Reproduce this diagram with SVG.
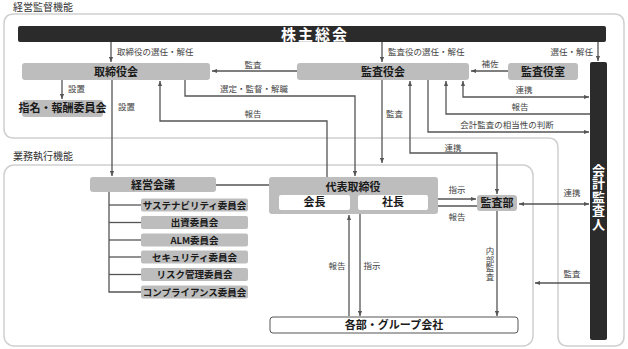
<svg xmlns="http://www.w3.org/2000/svg" width="628" height="349" viewBox="0 0 628 349">
<defs>
<marker id="ah" viewBox="0 0 6 6" refX="6" refY="3" markerWidth="5" markerHeight="5" orient="auto-start-reverse" markerUnits="userSpaceOnUse"><path d="M0,0.5 L6,3 L0,5.5 z" fill="#555"/></marker>
<style>
text{font-family:"Noto Sans CJK JP","Noto Sans",sans-serif}
.frame{fill:#fff;stroke:#cfcfcf;stroke-width:1.5}
.sec{font-size:10px;fill:#333}
.node{fill:#bdbdbd}
.dark{fill:#2b2b2b}
.wbox{fill:#fff}
.nt{font-size:11px;font-weight:bold;fill:#1a1a1a;text-anchor:middle}
.ct{font-size:9.5px;font-weight:bold;fill:#1a1a1a;text-anchor:middle}
.lb{font-size:8.5px;fill:#444}
.mid{text-anchor:middle}
.vt{writing-mode:vertical-rl;text-anchor:middle}
.c{fill:none;stroke:#555;stroke-width:1.3}
.a{marker-end:url(#ah)}
.ab{marker-end:url(#ah);marker-start:url(#ah)}
</style>
</defs>

<g id="frames">
<path class="frame" d="M4,24 Q4,14 14,14 L614,14 Q624,14 624,24 L624,336 Q624,346 614,346 L568,346 Q558,346 558,336 L558,148 Q558,138 548,138 L14,138 Q4,138 4,128 Z"/>
<rect class="frame" x="4" y="165" width="529" height="181" rx="10"/>
<text class="sec" x="13" y="11">経営監督機能</text>
<text class="sec" x="13" y="160">業務執行機能</text>
</g>

<g id="connectors">
<line class="c a" x1="111" y1="42" x2="111" y2="62"/>
<line class="c a" x1="382" y1="42" x2="382" y2="62"/>
<line class="c a" x1="598" y1="42" x2="598" y2="61"/>
<line class="c a" x1="62" y1="80" x2="62" y2="99"/>
<line class="c a" x1="112" y1="80" x2="112" y2="176"/>
<line class="c a" x1="297" y1="71" x2="212" y2="71"/>
<line class="c a" x1="508" y1="71" x2="471" y2="71"/>
<polyline class="c a" points="185,80 185,96 355,96 355,176"/>
<polyline class="c a" points="327,177 327,121 160,121 160,81"/>
<line class="c a" x1="382" y1="80" x2="382" y2="163"/>
<polyline class="c a" points="463,81 463,97 589,97" style="marker-start:url(#ah)"/>
<polyline class="c a" points="590,114 446,114 446,81"/>
<polyline class="c a" points="428,80 428,132 589,132"/>
<polyline class="c a" points="410,81 410,153 497,153 497,194" style="marker-start:url(#ah)"/>
<line class="c" x1="216" y1="185" x2="269" y2="185"/>
<line class="c a" x1="428" y1="199" x2="476" y2="199"/>
<line class="c a" x1="477" y1="206" x2="429" y2="206"/>
<line class="c ab" x1="519" y1="204" x2="589" y2="204"/>
<line class="c a" x1="497" y1="211" x2="497" y2="316"/>
<line class="c a" x1="349" y1="316" x2="349" y2="215"/>
<line class="c a" x1="360" y1="214" x2="360" y2="316"/>
<line class="c a" x1="590" y1="283" x2="535" y2="283"/>
<polyline class="c" points="109,192 109,292 141,292"/>
<line class="c" x1="109" y1="205" x2="141" y2="205"/>
<line class="c" x1="109" y1="222.5" x2="141" y2="222.5"/>
<line class="c" x1="109" y1="240" x2="141" y2="240"/>
<line class="c" x1="109" y1="257" x2="141" y2="257"/>
<line class="c" x1="109" y1="274.5" x2="141" y2="274.5"/>
<text class="lb" x="117" y="55">取締役の選任・解任</text>
<text class="lb" x="388" y="55">監査役の選任・解任</text>
<text class="lb" x="593" y="55" text-anchor="end">選任・解任</text>
<text class="lb" x="68" y="92">設置</text>
<text class="lb" x="118" y="110">設置</text>
<text class="lb mid" x="253" y="68">監査</text>
<text class="lb mid" x="254" y="92">選定・監督・解職</text>
<text class="lb mid" x="253" y="117">報告</text>
<text class="lb mid" x="490" y="67">補佐</text>
<text class="lb mid" x="524" y="93">連携</text>
<text class="lb mid" x="520" y="110">報告</text>
<text class="lb mid" x="507" y="128">会計監査の相当性の判断</text>
<text class="lb" x="386" y="117">監査</text>
<text class="lb mid" x="453" y="151">連携</text>
<text class="lb mid" x="457" y="193">指示</text>
<text class="lb mid" x="457" y="220">報告</text>
<text class="lb mid" x="572" y="196">連携</text>
<text class="lb vt" x="490" y="264">内部監査</text>
<text class="lb mid" x="337" y="269">報告</text>
<text class="lb mid" x="372" y="269">指示</text>
<text class="lb mid" x="572" y="277">監査</text>
</g>

<g id="n-kabunushi">
<rect class="dark" x="18" y="26" width="588" height="16" rx="2"/>
<text x="315" y="39.5" text-anchor="middle" font-size="15" font-weight="bold" fill="#fff" letter-spacing="2">株主総会</text>
</g>
<g id="n-kaikei">
<rect class="dark" x="590" y="62" width="17" height="278" rx="2"/>
<text class="vt" x="598.5" y="197" font-size="13" font-weight="bold" fill="#fff" letter-spacing="0.5">会計監査人</text>
</g>
<g id="n-torishimari">
<rect class="node" x="22" y="63" width="188" height="17" rx="3"/>
<text class="nt" x="116" y="75.5">取締役会</text>
</g>
<g id="n-shimei">
<rect class="node" x="22" y="100" width="81" height="17" rx="3"/>
<text class="nt" x="62.5" y="112" font-size="9">指名・報酬委員会</text>
</g>
<g id="n-kansayakukai">
<rect class="node" x="297" y="63" width="172" height="17" rx="3"/>
<text class="nt" x="383" y="75.5">監査役会</text>
</g>
<g id="n-kansayakushitsu">
<rect class="node" x="508" y="63" width="70" height="17" rx="3"/>
<text class="nt" x="543" y="75.5">監査役室</text>
</g>
<g id="n-keiei">
<rect class="node" x="90" y="177" width="126" height="15" rx="3"/>
<text class="nt" x="153" y="188.5">経営会議</text>
</g>
<g id="n-daihyo">
<rect class="node" x="269" y="177" width="169" height="37" rx="3"/>
<text class="nt" x="353" y="190.5" font-size="10">代表取締役</text>
<rect class="wbox" x="279" y="195" width="71" height="15" rx="2"/>
<text class="nt" x="314.5" y="206" font-size="10">会長</text>
<rect class="wbox" x="358" y="195" width="70" height="15" rx="2"/>
<text class="nt" x="393" y="206" font-size="10">社長</text>
</g>
<g id="n-kansabu">
<rect class="node" x="477" y="195" width="40" height="16" rx="3"/>
<text class="nt" x="497" y="206.5" font-size="10">監査部</text>
</g>
<g id="n-kakubu">
<rect x="270" y="317" width="248" height="16" rx="3" fill="#fff" stroke="#555" stroke-width="1"/>
<text class="nt" x="394" y="328.5" font-size="10">各部・グループ会社</text>
</g>
<g id="n-c1"><rect class="node" x="141" y="198.5" width="107" height="13" rx="2"/><text class="ct" x="194.5" y="208.5">サステナビリティ委員会</text></g>
<g id="n-c2"><rect class="node" x="141" y="216" width="107" height="13" rx="2"/><text class="ct" x="194.5" y="226">出資委員会</text></g>
<g id="n-c3"><rect class="node" x="141" y="233.5" width="107" height="13" rx="2"/><text class="ct" x="194.5" y="243.5">ALM委員会</text></g>
<g id="n-c4"><rect class="node" x="141" y="250.5" width="107" height="13" rx="2"/><text class="ct" x="194.5" y="260.5">セキュリティ委員会</text></g>
<g id="n-c5"><rect class="node" x="141" y="268" width="107" height="13" rx="2"/><text class="ct" x="194.5" y="278">リスク管理委員会</text></g>
<g id="n-c6"><rect class="node" x="141" y="285.5" width="107" height="13" rx="2"/><text class="ct" x="194.5" y="295.5">コンプライアンス委員会</text></g>
</svg>
